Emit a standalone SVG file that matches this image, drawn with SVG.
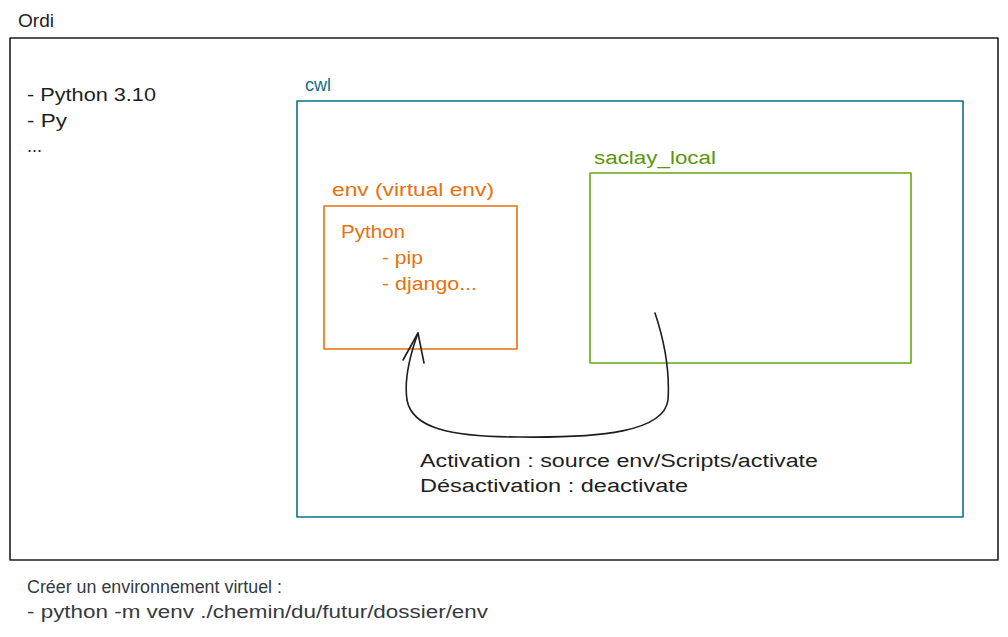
<svg xmlns="http://www.w3.org/2000/svg" width="1008" height="637" viewBox="0 0 1008 637">
<style>
text{font-family:"Liberation Sans","DejaVu Sans",sans-serif;font-size:18px}
.box{fill:none;stroke-width:1.6;stroke-linejoin:round}
.blk{fill:#1e1e1e}
.teal{fill:#0c7285}
.org{fill:#e8700d}
.grn{fill:#5c940d}
.gry{fill:#343a40}
</style>
<rect width="1008" height="637" fill="#ffffff"/>
<g id="ordi">
<rect class="box" x="10" y="38" width="988" height="522" stroke="#1e1e1e" stroke-width="1.8"/>
<text class="blk" x="18" y="27" textLength="36" lengthAdjust="spacingAndGlyphs">Ordi</text>
<text class="blk" x="27" y="101" font-size="19" textLength="129" lengthAdjust="spacingAndGlyphs">- Python 3.10</text>
<text class="blk" x="27" y="127" font-size="19" textLength="40" lengthAdjust="spacingAndGlyphs">- Py</text>
<text class="blk" x="27" y="152" font-size="19">...</text>
</g>
<g id="cwl">
<rect class="box" x="297" y="101" width="666" height="416" stroke="#0c7285"/>
<text class="teal" x="305" y="91" textLength="26" lengthAdjust="spacingAndGlyphs">cwl</text>
</g>
<g id="env">
<rect class="box" x="324" y="206" width="193" height="143" stroke="#e8700d"/>
<text class="org" x="332" y="196" textLength="162" lengthAdjust="spacingAndGlyphs">env (virtual env)</text>
<text class="org" x="341" y="238" textLength="64" lengthAdjust="spacingAndGlyphs">Python</text>
<text class="org" x="382" y="264" textLength="41" lengthAdjust="spacingAndGlyphs">- pip</text>
<text class="org" x="382" y="290" textLength="95" lengthAdjust="spacingAndGlyphs">- django...</text>
</g>
<g id="saclay_local">
<rect class="box" x="590" y="173" width="321" height="190" stroke="#66a80f"/>
<text class="grn" x="594" y="164" textLength="122" lengthAdjust="spacingAndGlyphs">saclay_local</text>
</g>
<g id="connectors">
<path d="M655,313 C664,340 670,370 668,400 C664,432 600,438 520,437 C450,437 412,428 407,400 C404,380 410,355 418,333" fill="none" stroke="#1e1e1e" stroke-width="1.6" stroke-linecap="round"/>
<path d="M403,360 L418,333 L424,363" fill="none" stroke="#1e1e1e" stroke-width="1.6" stroke-linecap="round" stroke-linejoin="round"/>
</g>
<g id="labels">
<text class="blk" x="420" y="467" font-size="19" textLength="398" lengthAdjust="spacingAndGlyphs">Activation : source env/Scripts/activate</text>
<text class="blk" x="420" y="492" font-size="19" textLength="268" lengthAdjust="spacingAndGlyphs">Désactivation : deactivate</text>
<text class="gry" x="27" y="593" font-size="19" textLength="255" lengthAdjust="spacingAndGlyphs">Créer un environnement virtuel :</text>
<text class="gry" x="27" y="618" font-size="19" textLength="461" lengthAdjust="spacingAndGlyphs">- python -m venv ./chemin/du/futur/dossier/env</text>
</g>
</svg>
